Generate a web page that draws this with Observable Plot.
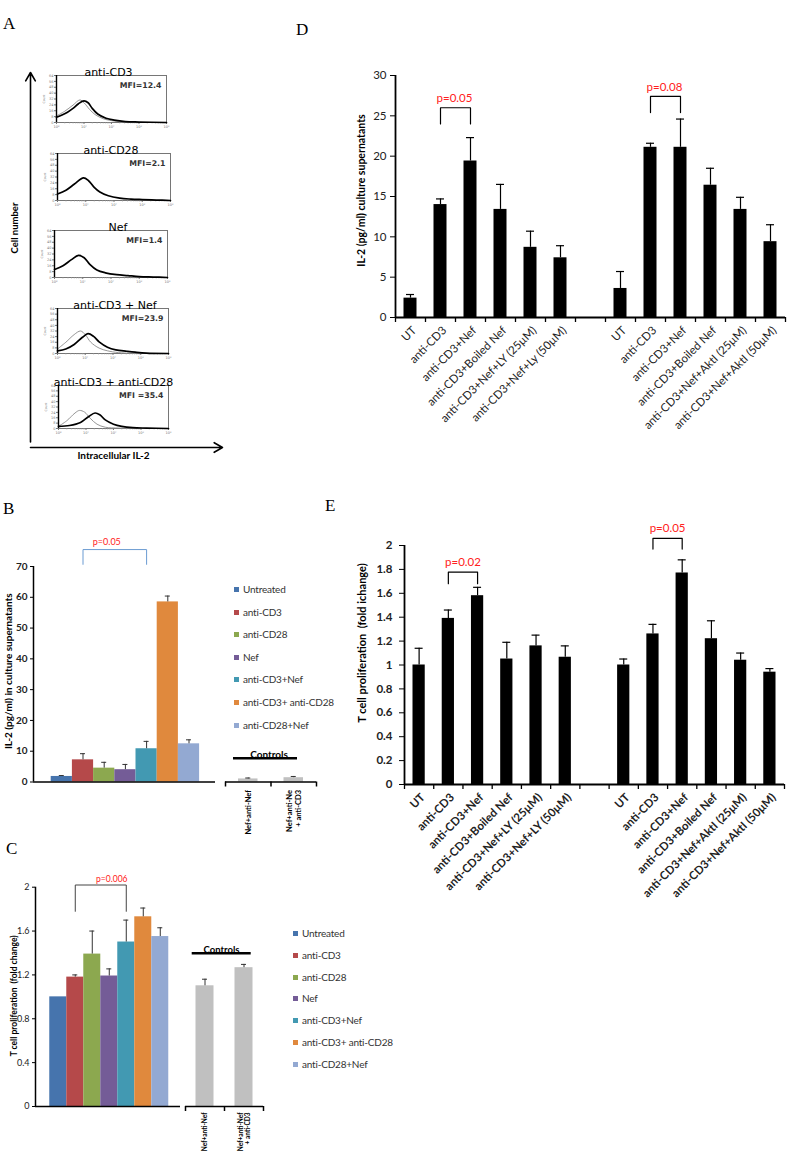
<!DOCTYPE html>
<html><head><meta charset="utf-8">
<script src="https://cdn.jsdelivr.net/npm/d3@7"></script>
<script src="https://cdn.jsdelivr.net/npm/@observablehq/plot@0.6"></script>
<style>
html,body{margin:0;padding:0;background:#fff;}
#page{position:relative;width:787px;height:1163px;overflow:hidden;font-family:Lato,"Noto Sans",sans-serif;}
.letter{position:absolute;font-family:"Liberation Serif","DejaVu Serif",serif;font-size:17px;line-height:17px;}
.leg{position:absolute;white-space:nowrap;color:#333;letter-spacing:-0.2px;}
.leg .row{position:absolute;left:0;height:12px;line-height:12px;}
.leg .sw{display:inline-block;width:5px;height:5px;margin-right:4px;vertical-align:middle;position:relative;top:-1px;}
</style></head>
<body><div id="page"></div>
<script>
// ---------- DATA ----------
// Panel A: flow histograms (x = log10 fluorescence, y = relative cell count)
const histTitles = ["anti-CD3", "anti-CD28", "Nef", "anti-CD3 + Nef", "anti-CD3 + anti-CD28"];
const histMFI = ["MFI=12.4", "MFI=2.1", "MFI=1.4", "MFI=23.9", "MFI =35.4"];
const hist1Stained = [[0,0.11],[0.2,0.16],[0.4,0.22],[0.6,0.3],[0.8,0.4],[1.0,0.46],[1.15,0.42],[1.3,0.3],[1.5,0.18],[1.8,0.09],[2.1,0.05],[2.5,0.02],[3,0.01],[4,0]];
const hist1Isotype = [[0,0.14],[0.3,0.24],[0.6,0.37],[0.85,0.48],[1.0,0.42],[1.2,0.28],[1.4,0.17],[1.7,0.08],[2.0,0.04],[2.5,0.01],[3,0]];
const hist2Stained = [[0,0.14],[0.3,0.22],[0.6,0.35],[0.92,0.48],[1.1,0.42],[1.3,0.28],[1.5,0.18],[1.8,0.1],[2.2,0.05],[2.6,0.03],[3,0.02],[3.5,0.01],[4,0]];
const hist2Isotype = [];
const hist3Stained = [[0,0.17],[0.3,0.25],[0.6,0.38],[0.85,0.47],[1.05,0.42],[1.25,0.28],[1.5,0.16],[1.8,0.1],[2.2,0.06],[2.6,0.04],[3,0.02],[3.5,0.01],[4,0]];
const hist3Isotype = [];
const hist4Stained = [[0,0.06],[0.3,0.1],[0.6,0.2],[0.9,0.36],[1.1,0.44],[1.3,0.38],[1.5,0.26],[1.8,0.14],[2.1,0.08],[2.5,0.05],[2.8,0.03],[3.2,0.01],[4,0]];
const hist4Isotype = [[0,0.1],[0.3,0.25],[0.6,0.42],[0.83,0.5],[1.0,0.42],[1.2,0.25],[1.5,0.12],[1.8,0.06],[2.2,0.02],[3,0]];
const hist5Stained = [[0,0.05],[0.4,0.07],[0.8,0.14],[1.1,0.28],[1.33,0.36],[1.5,0.32],[1.7,0.2],[2.0,0.1],[2.3,0.05],[2.7,0.02],[3.2,0.01],[4,0]];
const hist5Isotype = [[0,0.05],[0.3,0.18],[0.6,0.36],[0.76,0.42],[0.95,0.38],[1.15,0.24],[1.4,0.1],[1.7,0.03],[2.2,0.01],[3,0]];

// Panel B: IL-2 (pg/ml)
const treatments = ["Untreated", "anti-CD3", "anti-CD28", "Nef", "anti-CD3+Nef", "anti-CD3+ anti-CD28", "anti-CD28+Nef"];
const bValues = [1.8, 7.2, 4.5, 4.0, 10.8, 58.5, 12.4];
const bErrors = [0.3, 2.0, 1.9, 1.7, 2.4, 1.9, 1.3];
const bControlLabels = ["Nef+anti-Nef", "Nef+anti-Ne\n+ anti-CD3"];
const bControlValues = [1.0, 1.4];
const bControlErrors = [0.3, 0.4];

// Panel C: T cell proliferation (fold change)
const cValues = [1.0, 1.18, 1.39, 1.19, 1.5, 1.73, 1.55];
const cErrors = [0, 0.02, 0.21, 0.065, 0.2, 0.08, 0.08];
const cControlLabels = ["Nef+anti-Nef", "Nef+anti-Nef\n+ anti-CD3"];
const cControlValues = [1.1, 1.265];
const cControlErrors = [0.06, 0.03];

// Panel D: IL-2 (pg/ml) with inhibitors
const dLabels = ["UT", "anti-CD3", "anti-CD3+Nef", "anti-CD3+Boiled Nef", "anti-CD3+Nef+LY (25μM)", "anti-CD3+Nef+Ly (50μM)", "",
                 "UT", "anti-CD3", "anti-CD3+Nef", "anti-CD3+Boiled Nef", "anti-CD3+Nef+AktI (25μM)", "anti-CD3+Nef+AktI (50μM)"];
const dValues = [2.4, 14.0, 19.4, 13.4, 8.7, 7.4, null, 3.6, 21.1, 21.1, 16.4, 13.4, 9.4];
const dErrors = [0.45, 0.7, 2.9, 3.1, 2.0, 1.5, null, 2.1, 0.5, 3.5, 2.1, 1.5, 2.1];

// Panel E: T cell proliferation with inhibitors
const eLabels = ["UT", "anti-CD3", "anti-CD3+Nef", "anti-CD3+Boiled Nef", "anti-CD3+Nef+LY (25μM)", "anti-CD3+Nef+LY (50μM)", "",
                 "UT", "anti-CD3", "anti-CD3+Nef", "anti-CD3+Boiled Nef", "anti-CD3+Nef+AktI (25μM)", "anti-CD3+Nef+AktI (50μM)"];
const eValues = [1.0, 1.39, 1.58, 1.05, 1.16, 1.065, null, 1.0, 1.26, 1.77, 1.22, 1.04, 0.94];
const eErrors = [0.14, 0.07, 0.07, 0.14, 0.09, 0.095, null, 0.05, 0.08, 0.11, 0.15, 0.06, 0.03];

// significance brackets (bar index a to bar index b)
const bBrackets = [{a: 1, b: 4, top: 75.5, leg: 70.7, label: "p=0.05"}];
const cBrackets = [{a: 1, b: 4, top: 2.02, leg: 1.78, label: "p=0.006"}];
const dBrackets = [{a: 1, b: 2, top: 26.0, leg: 24.0, label: "p=0.05"}, {a: 8, b: 9, top: 27.4, leg: 25.4, label: "p=0.08"}];
const eBrackets = [{a: 1, b: 2, top: 1.777, leg: 1.68, label: "p=0.02"}, {a: 8, b: 9, top: 2.06, leg: 1.97, label: "p=0.05"}];

// ---------- STYLE ----------
const groupColors = ["#4674ad", "#b5494a", "#8ca84f", "#745c97", "#4299b2", "#e0893d", "#93a9d2"];
const FONT = "Lato, 'Noto Sans', sans-serif";
const page = document.getElementById("page");

function place(node, left, top, w, h) {
  const div = document.createElement("div");
  div.style.cssText = `position:absolute;left:${left}px;top:${top}px;width:${w}px;height:${h}px;`;
  div.appendChild(node);
  page.appendChild(div);
}
function style(fs) {
  return {fontFamily: FONT, fontSize: fs + "px", background: "none", overflow: "visible", color: "black"};
}
function rows(values, errors, labels) {
  return values.map((v, i) => ({i, v, e: errors[i], label: labels ? labels[i] : ""})).filter(d => d.v != null);
}
function errorMarks(data, cap, sw, stroke) {
  return [
    Plot.ruleX(data.filter(d => d.e > 0), {x: d => d.i + 0.5, y1: "v", y2: d => d.v + d.e, stroke, strokeWidth: sw}),
    Plot.ruleY(data.filter(d => d.e > 0), {y: d => d.v + d.e, x1: d => d.i + 0.5, x2: d => d.i + 0.5, insetLeft: -cap, insetRight: -cap, stroke, strokeWidth: sw})
  ];
}
function bracketMarks(brs, o) {
  const pts = brs.flatMap((b, k) => [
    {k, x: b.a + 0.5, y: b.leg}, {k, x: b.a + 0.5, y: b.top}, {k, x: b.b + 0.5, y: b.top}, {k, x: b.b + 0.5, y: b.leg}]);
  return [
    Plot.line(pts, {x: "x", y: "y", z: "k", stroke: o.stroke, strokeWidth: o.sw}),
    Plot.text(brs, {x: b => (b.a + b.b) / 2 + 0.5, y: "top", text: "label", dy: o.dy, dx: o.dx || 0, fill: "#ff2020", fontSize: o.fs})
  ];
}
function letter(t, left, top) {
  const d = document.createElement("div");
  d.className = "letter"; d.textContent = t;
  d.style.left = left + "px"; d.style.top = top + "px";
  page.appendChild(d);
}
function legend(left, top0, step, width, fs, sw) {
  const box = document.createElement("div");
  box.className = "leg";
  box.style.cssText += `left:${left}px;top:${top0 - 6}px;width:${width}px;height:${step * treatments.length + 6}px;font-size:${fs}px;`;
  treatments.forEach((t, k) => {
    const r = document.createElement("div");
    r.className = "row";
    r.style.top = (k * step) + "px";
    r.innerHTML = `<span class="sw" style="background:${groupColors[k]};width:${sw}px;height:${sw}px"></span>${t}`;
    box.appendChild(r);
  });
  page.appendChild(box);
}

// ---------- PANEL LETTERS ----------
letter("A", 3, 15); letter("D", 296, 21); letter("B", 3, 500); letter("E", 325, 497); letter("C", 6, 840);

// ---------- PANEL A ----------
place(Plot.plot({
  width: 235, height: 410, marginLeft: 30, marginRight: 13, marginTop: 12, marginBottom: 23,
  x: {domain: [0, 1], axis: null}, y: {domain: [0, 1], axis: null},
  style: style(10),
  marks: [
    Plot.arrow([{x1: 0, y1: 0.015, x2: 0, y2: 1}, {x1: 0, y1: 0, x2: 1, y2: 0}], {x1: "x1", y1: "y1", x2: "x2", y2: "y2", strokeWidth: 1.6, headLength: 9, stroke: "black"}),
    Plot.text(["Cell number"], {text: d => d, frameAnchor: "left", textAnchor: "middle", rotate: -90, dx: -16, dy: -32, fontWeight: "bold", fontSize: 9.5}),
    Plot.text(["Intracellular IL-2"], {text: d => d, frameAnchor: "bottom", textAnchor: "middle", dx: -13, dy: 11, fontWeight: "bold", fontSize: 10})
  ]
}), 0, 60, 235, 410);

const histBoxes = [
  {left: 56, top: 75, w: 110, h: 47, dx: -3},
  {left: 57, top: 153, w: 113, h: 47, dx: -3},
  {left: 54, top: 230, w: 113, h: 47, dx: 7},
  {left: 57, top: 308, w: 111, h: 45, dx: 2},
  {left: 58, top: 385, w: 110, h: 43, dx: 0}
];
const histStained = [hist1Stained, hist2Stained, hist3Stained, hist4Stained, hist5Stained];
const histIsotype = [hist1Isotype, hist2Isotype, hist3Isotype, hist4Isotype, hist5Isotype];
const supers = ["⁰", "¹", "²", "³", "⁴"];
histBoxes.forEach((b, k) => {
  const mL = 20, mT = 16, mR = 10, mB = 10;
  const minor = d3.range(0, 4).flatMap(e => d3.range(2, 10).map(m => e + Math.log10(m)));
  place(Plot.plot({
    width: b.w + mL + mR, height: b.h + mT + mB,
    marginLeft: mL, marginRight: mR, marginTop: mT, marginBottom: mB,
    x: {domain: [0, 4], axis: null}, y: {domain: [0, 1], axis: null},
    style: {...style(10), fontFamily: "'DejaVu Sans', Verdana, sans-serif"},
    marks: [
      Plot.frame({stroke: "#555", strokeWidth: 0.8}),
      Plot.axisX({ticks: minor, tickSize: 1.5, tickFormat: () => "", stroke: "#999", strokeWidth: 0.6, label: null}),
      Plot.axisX({ticks: [0, 1, 2, 3, 4], tickSize: 2, tickPadding: 1, tickFormat: d => "10" + supers[d], fontSize: 3.5, fill: "#777", stroke: "#777", label: null}),
      Plot.axisY({ticks: d3.range(0, 1.01, 0.125), tickSize: 2, tickPadding: 1, tickFormat: d => Math.round(d * 64), fontSize: 3.5, fill: "#777", stroke: "#777", label: null}),
      Plot.text(["Count"], {text: d => d, frameAnchor: "left", textAnchor: "middle", rotate: -90, dx: -12, fontSize: 3, fill: "#777"}),
      Plot.line(histIsotype[k], {x: d => d[0], y: d => d[1], curve: "catmull-rom", stroke: "#8a8a8a", strokeWidth: 0.9}),
      Plot.line(histStained[k], {x: d => d[0], y: d => d[1], curve: "catmull-rom", stroke: "black", strokeWidth: 1.7}),
      Plot.ruleX([0], {stroke: "black", strokeWidth: 1.4}),
      Plot.text([histTitles[k]], {text: d => d, frameAnchor: "top", textAnchor: "middle", dy: -7, dx: b.dx, fontSize: 11}),
      Plot.text([histMFI[k]], {text: d => d, frameAnchor: "top-right", dx: -5, dy: 7, textAnchor: "end", fontSize: 7.8, fontWeight: "bold", fill: "#333"})
    ]
  }), b.left - mL, b.top - mT, b.w + mL + mR, b.h + mT + mB);
});

// ---------- PANEL B ----------
const bRows = rows(bValues, bErrors, treatments);
const bDomain = [-0.835, treatments.length + 0.75];
place(Plot.plot({
  width: 220, height: 260, marginLeft: 33, marginRight: 5, marginTop: 36, marginBottom: 8.5,
  x: {domain: bDomain, axis: null}, y: {domain: [0, 70], axis: null},
  color: {domain: treatments, range: groupColors},
  style: style(10),
  marks: [
    Plot.rectY(bRows, {x1: "i", x2: d => d.i + 1, y1: 0, y2: "v", fill: "label"}),
    ...errorMarks(bRows, 2.5, 1, "#333"),
    Plot.axisY({ticks: d3.range(0, 71, 10), tickSize: 3, tickPadding: 3, fontWeight: "bold", fontSize: 10, fill: "#222", label: null}),
    Plot.ruleX([bDomain[0]], {stroke: "black", strokeWidth: 1.5}),
    Plot.ruleY([0], {stroke: "black", strokeWidth: 1.5}),
    Plot.text(["IL-2 (pg/ml) in culture supernatants"], {text: d => d, frameAnchor: "left", textAnchor: "middle", rotate: -90, dx: -25, dy: -3, fontWeight: "bold", fontSize: 10}),
    ...bracketMarks(bBrackets, {stroke: "#6b9bd2", sw: 1, dy: -7, dx: -8, fs: 9})
  ]
}), 0, 530, 220, 260);

const bCtrlRows = rows(bControlValues, bControlErrors, bControlLabels);
const bCtrlTop = 7.75;
place(Plot.plot({
  width: 110, height: 115, marginLeft: 10, marginRight: 9, marginTop: 22.7, marginBottom: 68.5,
  x: {domain: [0, 2], axis: null}, y: {domain: [0, bCtrlTop], axis: null},
  style: style(10),
  marks: [
    Plot.rectY(bCtrlRows, {x1: "i", x2: d => d.i + 1, y1: 0, y2: "v", fill: "#c0c0c0", insetLeft: 13, insetRight: 13}),
    ...errorMarks(bCtrlRows, 2.5, 1, "#333"),
    Plot.axisX({ticks: [0, 1, 2], tickSize: 5, tickFormat: () => "", strokeWidth: 1.5, label: null}),
    Plot.ruleY([0], {stroke: "black", strokeWidth: 1.5}),
    Plot.ruleY([bCtrlTop], {stroke: "black", strokeWidth: 2.5, insetLeft: 8, insetRight: 19}),
    Plot.text(["Controls"], {text: d => d, frameAnchor: "top", textAnchor: "middle", dy: -7, dx: -2, fontWeight: "bold", fontSize: 10}),
    Plot.text(bCtrlRows, {x: d => d.i + 0.5, y: 0, text: "label", rotate: -90, textAnchor: "end", dy: 8, fontSize: 7.5, fontWeight: "bold", lineHeight: 1.1})
  ]
}), 215, 735, 110, 115);

legend(234, 589, 22.6, 110, 10, 5);

// ---------- PANEL C ----------
const cRows = rows(cValues, cErrors, treatments);
const cDomain = [-0.84, treatments.length + 0.69];
place(Plot.plot({
  width: 182, height: 260, marginLeft: 35, marginRight: 2, marginTop: 26.7, marginBottom: 14,
  x: {domain: cDomain, axis: null}, y: {domain: [0, 2], axis: null},
  color: {domain: treatments, range: groupColors},
  style: style(9),
  marks: [
    Plot.rectY(cRows, {x1: "i", x2: d => d.i + 1, y1: 0, y2: "v", fill: "label"}),
    ...errorMarks(cRows, 2.5, 1, "#333"),
    Plot.axisY({ticks: [0, 0.4, 0.8, 1.2, 1.6, 2], tickSize: 3, tickPadding: 3, tickFormat: d => String(+d.toFixed(1)), fontSize: 9, fill: "#222", label: null}),
    Plot.ruleX([cDomain[0]], {stroke: "black", strokeWidth: 1.5}),
    Plot.ruleY([0], {stroke: "black", strokeWidth: 1.5}),
    Plot.text(["T cell proliferation  (fold change)"], {text: d => d, frameAnchor: "left", textAnchor: "middle", rotate: -90, dx: -21, dy: -1, fontWeight: "bold", fontSize: 8.5}),
    ...bracketMarks(cBrackets, {stroke: "#444", sw: 1, dy: -6, dx: 11, fs: 8.5})
  ]
}), 0, 860, 182, 260);

const cCtrlRows = rows(cControlValues, cControlErrors, cControlLabels);
const cCtrlTop = 1.397;
place(Plot.plot({
  width: 100, height: 233, marginLeft: 10, marginRight: 12, marginTop: 22.7, marginBottom: 57,
  x: {domain: [0, 2], axis: null}, y: {domain: [0, cCtrlTop], axis: null},
  style: style(10),
  marks: [
    Plot.rectY(cCtrlRows, {x1: "i", x2: d => d.i + 1, y1: 0, y2: "v", fill: "#c0c0c0", insetLeft: 10.5, insetRight: 10.5}),
    ...errorMarks(cCtrlRows, 2.5, 1, "#333"),
    Plot.axisX({ticks: [0, 1, 2], tickSize: 5, tickFormat: () => "", strokeWidth: 1.5, label: null}),
    Plot.ruleY([0], {stroke: "black", strokeWidth: 1.5}),
    Plot.ruleY([cCtrlTop], {stroke: "black", strokeWidth: 2.5, insetLeft: 6.7, insetRight: 12.3}),
    Plot.text(["Controls"], {text: d => d, frameAnchor: "top", textAnchor: "middle", dy: -7, dx: -3, fontWeight: "bold", fontSize: 9.5}),
    Plot.text(cCtrlRows, {x: d => d.i + 0.5, y: 0, text: "label", rotate: -90, textAnchor: "end", dy: 6, fontSize: 6.5, fontWeight: "bold", lineHeight: 1.1})
  ]
}), 175, 930, 100, 233);

legend(293, 933, 21.8, 130, 10, 5);

// ---------- PANEL D ----------
const dRows = rows(dValues, dErrors, dLabels);
const dLabelRows = dLabels.map((label, i) => ({i, label})).filter(d => d.label);
place(Plot.plot({
  width: 457, height: 390, marginLeft: 65, marginRight: 2, marginTop: 35, marginBottom: 113,
  x: {domain: [0, dLabels.length], axis: null}, y: {domain: [0, 30], axis: null},
  style: style(11),
  marks: [
    Plot.rectY(dRows, {x1: "i", x2: d => d.i + 1, y1: 0, y2: "v", fill: "black", insetLeft: 8.5, insetRight: 8.5}),
    ...errorMarks(dRows, 4, 1.2, "black"),
    Plot.axisY({ticks: d3.range(0, 31, 5), tickSize: 5, tickPadding: 4, fontSize: 11.5, fill: "#222", label: null}),
    Plot.axisX({ticks: d3.range(0, dLabels.length + 1), tickSize: 5, tickFormat: () => "", strokeWidth: 1.3, label: null}),
    Plot.ruleX([0], {stroke: "black", strokeWidth: 1.8}),
    Plot.ruleY([0], {stroke: "black", strokeWidth: 1.8}),
    Plot.text(dLabelRows, {x: d => d.i + 0.5, y: 0, text: "label", rotate: -45, textAnchor: "end", dx: 4, dy: 11, fontSize: 11.5, fill: "#222"}),
    Plot.text(["IL-2 (pg/ml) culture supernatants"], {text: d => d, frameAnchor: "left", textAnchor: "middle", rotate: -90, dx: -34, dy: -6, fontWeight: "bold", fontSize: 10.5}),
    ...bracketMarks(dBrackets, {stroke: "black", sw: 1.2, dy: -9, dx: -1, fs: 11.5})
  ]
}), 330, 40, 457, 390);

// ---------- PANEL E ----------
const eRows = rows(eValues, eErrors, eLabels);
const eLabelRows = eLabels.map((label, i) => ({i, label})).filter(d => d.label);
place(Plot.plot({
  width: 457, height: 400, marginLeft: 74, marginRight: 3, marginTop: 45, marginBottom: 116,
  x: {domain: [0, eLabels.length], axis: null}, y: {domain: [0, 2], axis: null},
  style: style(11),
  marks: [
    Plot.rectY(eRows, {x1: "i", x2: d => d.i + 1, y1: 0, y2: "v", fill: "black", insetLeft: 8.5, insetRight: 8.5}),
    ...errorMarks(eRows, 4, 1.2, "black"),
    Plot.axisY({ticks: d3.range(0, 2.01, 0.2), tickSize: 5, tickPadding: 7, tickFormat: d => String(+d.toFixed(1)), fontSize: 11.5, fontWeight: "bold", fill: "#222", label: null}),
    Plot.axisX({ticks: d3.range(0, eLabels.length + 1), tickSize: 5, tickFormat: () => "", strokeWidth: 1.3, label: null}),
    Plot.ruleX([0], {stroke: "black", strokeWidth: 1.8}),
    Plot.ruleY([0], {stroke: "black", strokeWidth: 1.8}),
    Plot.text(eLabelRows, {x: d => d.i + 0.5, y: 0, text: "label", rotate: -45, textAnchor: "end", dx: 4, dy: 11, fontSize: 11.5, fontWeight: "bold", fill: "#222"}),
    Plot.text(["T cell proliferation  (fold ichange)"], {text: d => d, frameAnchor: "left", textAnchor: "middle", rotate: -90, dx: -42, dy: -22, fontWeight: "bold", fontSize: 11}),
    ...bracketMarks(eBrackets, {stroke: "black", sw: 1.2, dy: -10, dx: 0, fs: 11.5})
  ]
}), 330, 500, 457, 400);
</script>
</body></html>
